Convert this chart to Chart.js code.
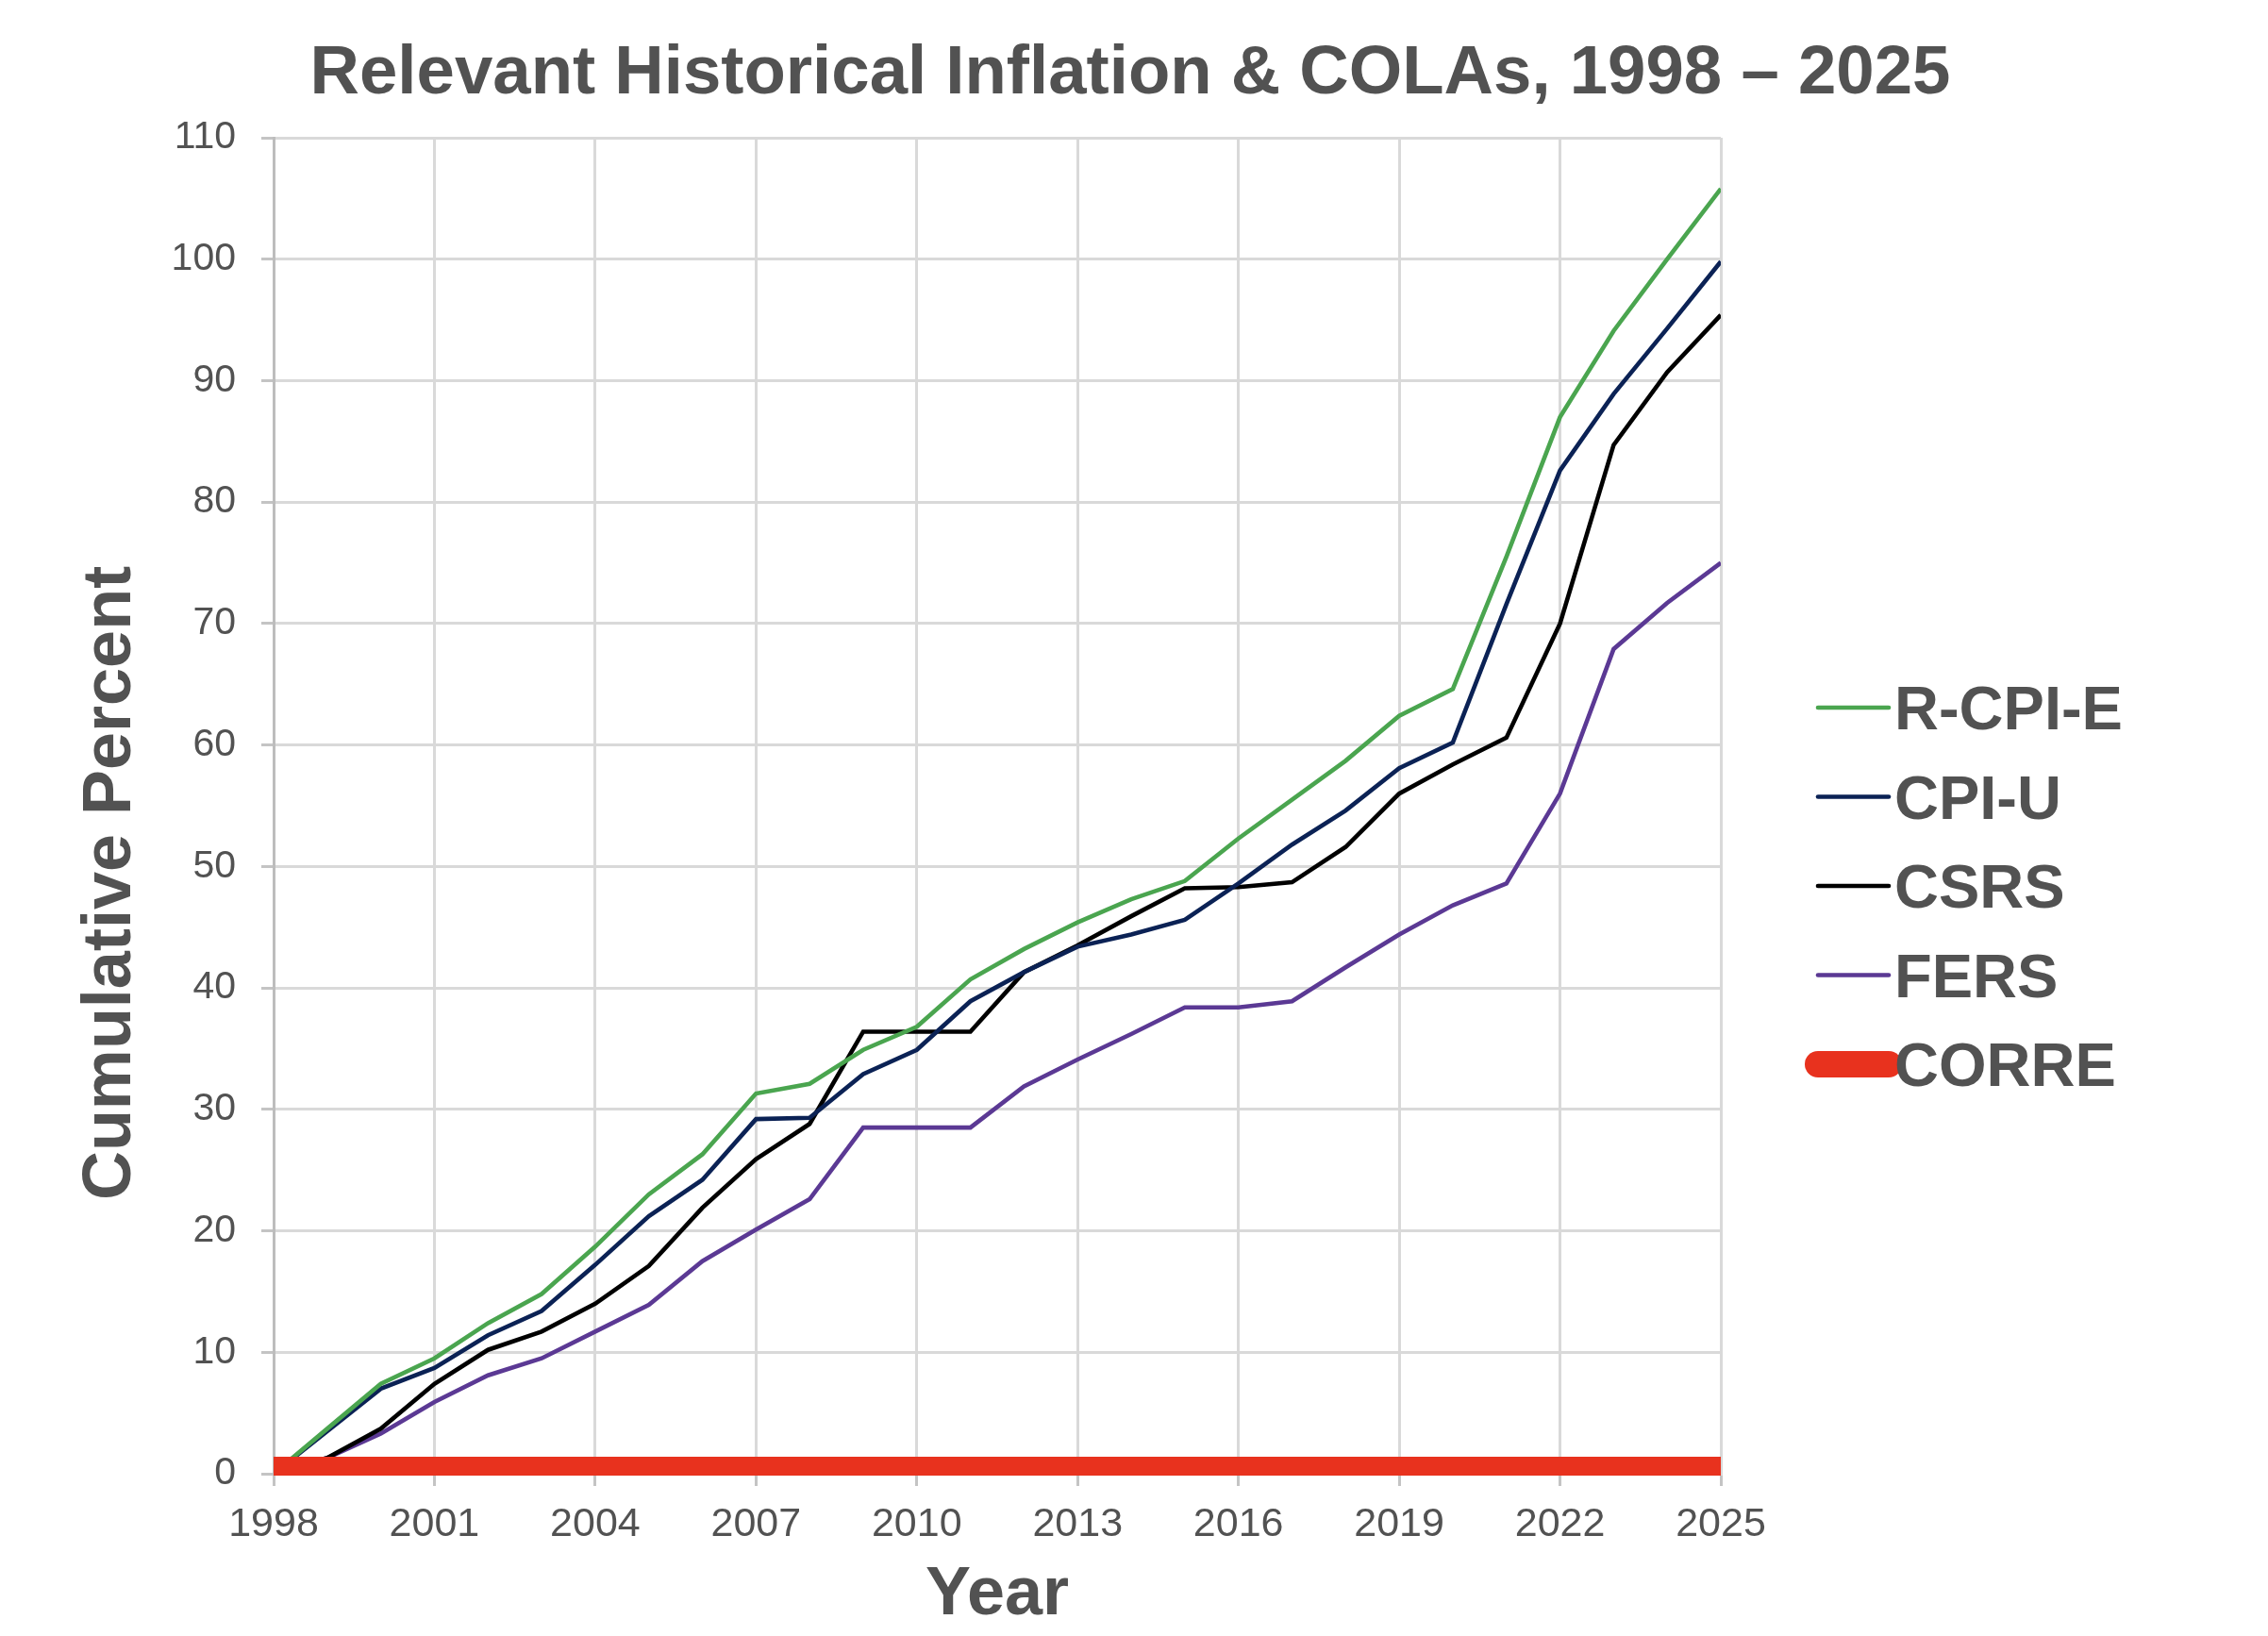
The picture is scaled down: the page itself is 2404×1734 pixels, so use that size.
<!DOCTYPE html>
<html>
<head>
<meta charset="utf-8">
<title>Relevant Historical Inflation & COLAs</title>
<script src="https://cdn.jsdelivr.net/npm/chart.js@4.4.1/dist/chart.umd.min.js"></script>
<style>
  html, body { margin: 0; padding: 0; background: #ffffff; }
  canvas { display: block; }
</style>
</head>
<body>
<canvas id="colaChart" width="2404" height="1734"></canvas>
<script>
// data (cumulative percent since 1998)
const years = [1998, 1999, 2000, 2001, 2002, 2003, 2004, 2005, 2006, 2007, 2008, 2009, 2010, 2011,
               2012, 2013, 2014, 2015, 2016, 2017, 2018, 2019, 2020, 2021, 2022, 2023, 2024, 2025];
const rcpie = [0, 3.7, 7.4, 9.5, 12.4, 14.8, 18.7, 23.0, 26.3, 31.3, 32.1, 34.9, 36.8, 40.7,
               43.2, 45.4, 47.3, 48.8, 52.3, 55.5, 58.7, 62.4, 64.6, 75.5, 87.0, 94.1, 100.0, 105.8];
const cpiu  = [0, 3.5, 7.0, 8.7, 11.4, 13.4, 17.2, 21.2, 24.2, 29.2, 29.3, 32.9, 34.9, 38.9,
               41.3, 43.4, 44.4, 45.6, 48.6, 51.8, 54.6, 58.1, 60.2, 71.6, 82.6, 88.9, 94.3, 99.8];
const csrs  = [0, 1.3, 3.7, 7.4, 10.2, 11.7, 14.0, 17.1, 21.9, 25.9, 28.8, 36.4, 36.4, 36.4,
               41.3, 43.5, 45.9, 48.2, 48.3, 48.7, 51.6, 56.0, 58.4, 60.6, 70.0, 84.7, 90.7, 95.4];
const fers  = [0, 1.3, 3.3, 5.9, 8.1, 9.5, 11.7, 13.9, 17.5, 20.1, 22.6, 28.5, 28.5, 28.5,
               31.9, 34.1, 36.2, 38.4, 38.4, 38.9, 41.7, 44.4, 46.8, 48.6, 56.0, 67.9, 71.7, 75.0];
const corre = [0, 0, 0, 0, 0, 0, 0, 0, 0, 0, 0, 0, 0, 0,
               0, 0, 0, 0, 0, 0, 0, 0, 0, 0, 0, 0, 0, 0];
const yTicks = [0, 10, 20, 30, 40, 50, 60, 70, 80, 90, 100, 110];

const seriesNames = ['R-CPI-E', 'CPI-U', 'CSRS', 'FERS', 'CORRE'];
const seriesColors = ['#4aa54f', '#0b2255', '#000000', '#5b3994', '#e8321e'];

const textColor = '#525252';
const fontFamily = '"Liberation Sans", Arial, Helvetica, sans-serif';

function toPoints(values) {
    return years.map((yr, i) => ({ x: yr, y: values[i] }));
}

// title, rotated y title and the legend are painted here
const decorations = {
    id: 'decorations',
    afterDraw(chart) {
        const ctx = chart.ctx;
        ctx.save();
        ctx.fillStyle = textColor;

        // main title
        ctx.font = 'bold 72.6px ' + fontFamily;
        ctx.textAlign = 'center';
        ctx.textBaseline = 'alphabetic';
        ctx.fillText('Relevant Historical Inflation & COLAs, 1998 \u2013 2025', 1198, 99);

        // y axis title, sits a bit below the middle of the axis
        ctx.font = 'bold 72px ' + fontFamily;
        ctx.save();
        ctx.translate(138, 936);
        ctx.rotate(-Math.PI / 2);
        ctx.fillText('Cumulative Percent', 0, 0);
        ctx.restore();

        // legend
        ctx.font = 'bold 65px ' + fontFamily;
        ctx.textAlign = 'left';
        chart.data.datasets.forEach((ds, i) => {
            const rowY = 750 + i * 94.5;
            ctx.beginPath();
            ctx.strokeStyle = ds.borderColor;
            ctx.lineWidth = Math.min(ds.borderWidth, 28);
            ctx.lineCap = 'round';
            ctx.moveTo(1927, rowY);
            ctx.lineTo(2002, rowY);
            ctx.stroke();
            ctx.fillStyle = textColor;
            ctx.fillText(ds.label, 2008, rowY + 23);
        });
        ctx.restore();
    }
};

const lineSeries = [rcpie, cpiu, csrs, fers];
const datasets = lineSeries.map((values, i) => ({
    label: seriesNames[i],
    data: toPoints(values),
    borderColor: seriesColors[i],
    backgroundColor: seriesColors[i],
    borderWidth: 4.6,
    pointRadius: 0,
    tension: 0,
    order: i + 1
}));
datasets.push({
    label: seriesNames[4],
    data: toPoints(corre),
    borderColor: seriesColors[4],
    backgroundColor: seriesColors[4],
    borderWidth: 36,
    pointRadius: 0,
    order: 0,
    clip: { left: 0, top: 0, right: 0, bottom: 2 }
});

const ctx = document.getElementById('colaChart').getContext('2d');
new Chart(ctx, {
    type: 'line',
    data: { datasets: datasets },
    plugins: [decorations],
    options: {
        responsive: false,
        devicePixelRatio: 1,
        animation: false,
        layout: { padding: { top: 146, right: 580, bottom: 0, left: 0 } },
        plugins: {
            legend: { display: false },
            title: { display: false },
            tooltip: { enabled: false }
        },
        scales: {
            x: {
                type: 'linear',
                min: years[0],
                max: years[years.length - 1],
                afterFit: scale => { scale.height = 172; },
                ticks: {
                    stepSize: 3,
                    callback: v => String(v),
                    font: { family: fontFamily, size: 43 },
                    color: textColor,
                    padding: 15,
                    maxRotation: 0
                },
                grid: { color: '#d9d9d9', lineWidth: 3, tickLength: 13, tickColor: '#c4c4c4' },
                border: { color: '#d9d9d9', width: 3 },
                title: {
                    display: true,
                    text: 'Year',
                    color: textColor,
                    font: { family: fontFamily, size: 72, weight: 'bold' },
                    padding: { top: 0, bottom: 0 }
                }
            },
            y: {
                min: yTicks[0],
                max: yTicks[yTicks.length - 1],
                afterFit: scale => { scale.width = 290; },
                afterBuildTicks: scale => { scale.ticks = yTicks.map(v => ({ value: v })); },
                ticks: {
                    font: { family: fontFamily, size: 41 },
                    color: textColor,
                    padding: 27
                },
                grid: { color: '#d9d9d9', lineWidth: 3, tickLength: 13, tickColor: '#c4c4c4' },
                border: { color: '#bdbdbd', width: 3 }
            }
        }
    }
});
</script>
</body>
</html>
